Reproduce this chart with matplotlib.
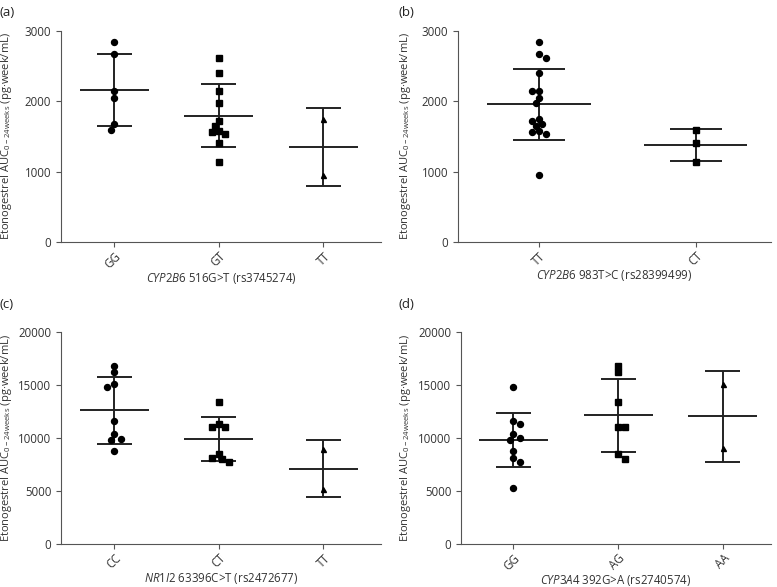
import numpy as np
import matplotlib
matplotlib.use("Agg")
import matplotlib.pyplot as plt

plt.rcParams['font.family'] = ['Open Sans', 'DejaVu Sans']
plt.rcParams['mathtext.fontset'] = 'custom'
plt.rcParams['mathtext.rm'] = 'Open Sans'
plt.rcParams['mathtext.it'] = 'Open Sans:italic'
plt.rcParams['font.size'] = 8.3

# (a) CYP2B6 516G>T
a_groups = ['GG', 'GT', 'TT']
a_vals = [
    [2849, 2669, 2148, 2049, 1675, 1595],
    [2621, 2399, 2143, 1978, 1727, 1656, 1585, 1566, 1533, 1401, 1136],
    [1746, 956],
]
# (b) CYP2B6 983T>C
b_groups = ['TT', 'CT']
b_vals = [
    [2849, 2669, 2621, 2399, 2148, 2143, 2049, 1978, 1746, 1727, 1675, 1656,
     1585, 1566, 1533, 956],
    [1595, 1401, 1136],
]
# (c) NR1I2 63396C>T
c_groups = ['CC', 'CT', 'TT']
c_vals = [
    [16819, 16189, 15118, 14835, 11559, 10331, 9921, 9827, 8756],
    [13417, 11307, 11024, 10992, 8535, 8126, 8063, 7748],
    [9000, 5230],
]
# (d) CYP3A4 392G>A
d_groups = ['GG', 'AG', 'AA']
d_vals = [
    [14803, 11559, 11307, 10331, 9953, 9827, 8787, 8094, 7780, 5323],
    [16819, 16189, 13417, 10992, 10992, 8504, 8063],
    [15100, 9030],
]

ylab = 'Etonogestrel AUC$_{\\mathregular{0-24weeks}}$ (pg·week/mL)'

markers = ['o', 's', '^']
line_c = '#222222'
spine_c = '#555555'
text_c = '#333333'
W, H = 777, 587


def swarm(ax, x0, vals, diam=6.0, step=3.3):
    # simple beeswarm in pixel space
    placed = []
    xs = []
    for v in vals:
        px, py = ax.transData.transform((x0, v))
        k_order = [0]
        for k in range(1, 8):
            k_order += [k, -k] if len(placed) % 2 == 0 else [-k, k]
        for k in k_order:
            cx = px + k * step
            if all((cx - qx) ** 2 + (py - qy) ** 2 >= (diam * 0.98) ** 2 for qx, qy in placed):
                break
        placed.append((cx, py))
        xs.append(ax.transData.inverted().transform((cx, py))[0])
    return xs


def panel(rect, groups, vals, ymax, yticks, xlim, xlab, tag, tagpos, ylab_px):
    ax = fig.add_axes(rect)
    ax.set_xlim(*xlim)
    ax.set_ylim(0, ymax)
    for i, v in enumerate(vals):
        v = np.array(v, dtype=float)
        m = v.mean()
        sd = v.std(ddof=1)
        ax.hlines(m, i - 0.33, i + 0.33, color=line_c, lw=1.4, zorder=2)
        ax.hlines([m - sd, m + sd], i - 0.167, i + 0.167, color=line_c, lw=1.4, zorder=2)
        ax.vlines(i, m - sd, m + sd, color=line_c, lw=1.4, zorder=2)
        ms = {'o': 4.3, 's': 4.2, '^': 3.6}[markers[i]]
        xs = swarm(ax, i, v)
        ax.plot(xs, v, ls='none', marker=markers[i], ms=ms, color='black',
                mec='black', zorder=3)
    ax.set_xticks(range(len(groups)))
    ax.set_xticklabels(groups, rotation=45, ha='right', rotation_mode='anchor',
                       color=text_c)
    ax.set_yticks(yticks)
    ax.tick_params(colors=spine_c, labelcolor=text_c, length=3.5, width=0.8)
    ax.tick_params(axis='x', pad=2)
    for s in ['top', 'right']:
        ax.spines[s].set_visible(False)
    for s in ['left', 'bottom']:
        ax.spines[s].set_color(spine_c)
        ax.spines[s].set_linewidth(0.8)
    ax.set_xlabel(xlab, color=text_c, labelpad=0)
    ax.set_ylabel(ylab, color=text_c, fontsize=8.0)
    # right edge of the rotated label, in figure pixels
    ax.yaxis.set_label_coords((ylab_px - rect[0] * W) / (rect[2] * W), 0.5)
    fig.text(tagpos[0], tagpos[1], tag, fontsize=9.5, color='#222222', va='center')
    return ax


fig = plt.figure(figsize=(7.77, 5.87), dpi=100)

panel([61 / W, 1 - 242 / H, 320 / W, 211 / H], a_groups, a_vals, 3000,
      [0, 1000, 2000, 3000], (-0.507, 2.55),
      r'$\mathit{CYP2B6}$ 516G>T (rs3745274)', '(a)', (0.0, 1 - 12 / H), 14)
panel([458 / W, 1 - 242 / H, 313 / W, 211 / H], b_groups, b_vals, 3000,
      [0, 1000, 2000, 3000], (-0.516, 1.48),
      r'$\mathit{CYP2B6}$ 983T>C (rs28399499)', '(b)', (398 / W, 1 - 12 / H), 413)
panel([61 / W, 1 - 544 / H, 320 / W, 212 / H], c_groups, c_vals, 20000,
      [0, 5000, 10000, 15000, 20000], (-0.507, 2.55),
      r'$\mathit{NR1I2}$ 63396C>T (rs2472677)', '(c)', (0.0, 1 - 304 / H), 14)
panel([461 / W, 1 - 544 / H, 310 / W, 212 / H], d_groups, d_vals, 20000,
      [0, 5000, 10000, 15000, 20000], (-0.5, 2.46),
      r'$\mathit{CYP3A4}$ 392G>A (rs2740574)', '(d)', (398 / W, 1 - 304 / H), 413)

fig.savefig('out.png', dpi=100)
